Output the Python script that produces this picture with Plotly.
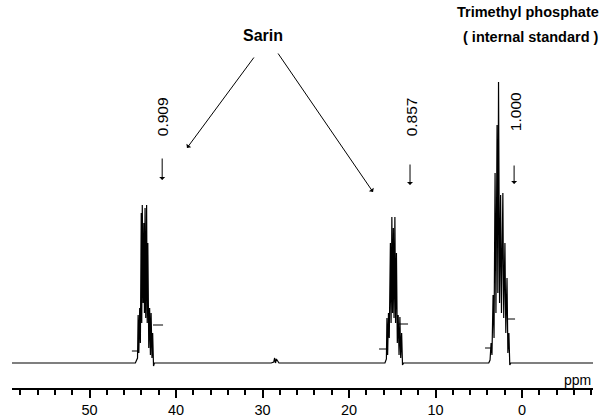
import plotly.graph_objects as go

# ---- Data ----
# Multiplet 1: Sarin, low-field half of the P-F doublet (ppm, intensity)
sarin1_ppm = [44.70, 44.45, 44.38, 44.30, 44.20, 44.12, 44.02, 43.96, 43.90, 43.80, 43.72, 43.65,
              43.58, 43.50, 43.40, 43.33, 43.26, 43.15, 43.05, 42.96, 42.88, 42.78, 42.70, 42.60, 42.50]
sarin1_int = [0, 5, 48, 10, 55, 20, 150, 40, 158, 60, 140, 50,
              155, 45, 158, 40, 120, 15, 55, 8, 50, 5, 30, -3, 0]
# Multiplet 2: Sarin, high-field half
sarin2_ppm = [15.85, 15.68, 15.62, 15.54, 15.44, 15.35, 15.22, 15.14, 15.05, 14.97, 14.88, 14.80,
              14.70, 14.62, 14.52, 14.42, 14.32, 14.22, 14.12, 14.03, 13.92, 13.82, 13.70]
sarin2_int = [0, 4, 45, 8, 50, 25, 120, 40, 146, 50, 135, 45,
              146, 40, 110, 20, 48, 8, 46, 5, 30, -2, 0]
# Multiplet 3: trimethyl phosphate (internal standard)
tmp_ppm = [3.85, 3.70, 3.58, 3.48, 3.35, 3.24, 3.12, 3.02, 2.89, 2.80, 2.72, 2.60,
           2.48, 2.38, 2.22, 2.12, 1.98, 1.88, 1.74, 1.64, 1.52, 1.42, 1.30]
tmp_int = [0, 3, 20, 8, 68, 25, 190, 50, 238, 70, 281, 60,
           168, 50, 170, 45, 120, 30, 85, 10, 30, -2, 0]
# small baseline feature near 29 ppm
blip_ppm = [29.0, 28.7, 28.6, 28.5, 28.4, 28.1]
blip_int = [0, 1, 5, 0, 4, 0]
spec_start, spec_end = 58.96, -8.2

# integration markers: (ppm_from, ppm_to, level)
integ_from = [45.1, 42.66, 16.53, 14.22, 4.28, 1.73]
integ_to = [44.4, 41.50, 15.49, 13.18, 3.47, 0.81]
integ_level = [12, 38, 14, 39, 15, 44]

# relative integrals
integ_labels = ["0.909", "0.857", "1.000"]
integ_label_ppm = [41.6, 12.8, 0.8]
integ_arrow_ppm = [41.6, 12.95, 0.92]

x_ticks = [50, 40, 30, 20, 10, 0]

# ---- Build spectrum trace ----
segments = [
    ([spec_start], [0]),
    (sarin1_ppm, sarin1_int),
    (blip_ppm, blip_int),
    (sarin2_ppm, sarin2_int),
    (tmp_ppm, tmp_int),
    ([spec_end], [0]),
]
xs, ys = [], []
for px, py in segments:
    xs += list(px)
    ys += list(py)

fig = go.Figure()
fig.add_trace(go.Scatter(x=xs, y=ys, mode="lines",
                         line=dict(color="black", width=1.2), hoverinfo="skip"))

ix, iy = [], []
for a, b, lv in zip(integ_from, integ_to, integ_level):
    ix += [a, b, None]
    iy += [lv, lv, None]
fig.add_trace(go.Scatter(x=ix, y=iy, mode="lines",
                         line=dict(color="black", width=1), hoverinfo="skip"))

font = "Liberation Sans, Arial, sans-serif"
ann = []
label_y = [246, 246, 251]
arrow_head = [183, 178, 179]
arrow_tail = [206, 200, 199]
for t, lx, ax_, ly, h, tl in zip(integ_labels, integ_label_ppm, integ_arrow_ppm, label_y, arrow_head, arrow_tail):
    ann.append(dict(x=lx, y=ly, text=t, showarrow=False, textangle=-90,
                    font=dict(family=font, size=15.5, color="black")))
    ann.append(dict(x=ax_, y=h, ax=ax_, ay=tl, axref="x", ayref="y", text="",
                    showarrow=True, arrowhead=1, arrowsize=1, arrowwidth=1, arrowcolor="black"))

ann.append(dict(x=29.94, y=328, text="<b>Sarin</b>", showarrow=False,
                font=dict(family=font, size=16, color="black")))
ann.append(dict(x=38.73, y=215, ax=30.87, ay=307, axref="x", ayref="y", text="",
                showarrow=True, arrowhead=1, arrowsize=1, arrowwidth=1, arrowcolor="black"))
ann.append(dict(x=17.23, y=171, ax=28.32, ay=311, axref="x", ayref="y", text="",
                showarrow=True, arrowhead=1, arrowsize=1, arrowwidth=1, arrowcolor="black"))
ann.append(dict(x=-0.69, y=351, text="<b>Trimethyl phosphate</b>", showarrow=False,
                font=dict(family=font, size=14.5, color="black")))
ann.append(dict(x=-1.04, y=326, text="<b>( internal standard )</b>", showarrow=False,
                font=dict(family=font, size=14.5, color="black")))
ann.append(dict(x=-6.36, y=-17, text="ppm", showarrow=False,
                font=dict(family=font, size=14, color="black")))

fig.update_layout(
    width=602, height=417,
    margin=dict(l=12, r=9, t=0, b=29),
    paper_bgcolor="white", plot_bgcolor="white",
    showlegend=False,
    annotations=ann,
    xaxis=dict(range=[spec_start, spec_end], tickvals=x_ticks, ticktext=[str(v) for v in x_ticks],
               ticks="outside", ticklen=8, tickwidth=1.5, tickcolor="black",
               showline=True, linewidth=2, linecolor="black",
               showgrid=False, zeroline=False,
               tickfont=dict(family=font, size=14.5, color="black"),
               minor=dict(dtick=2, tick0=0, ticks="outside", ticklen=5, tickwidth=1.5, tickcolor="black")),
    yaxis=dict(range=[-25, 363], visible=False, showgrid=False, zeroline=False),
)

fig.write_html("out.html", config={"displayModeBar": False},
               post_script="document.body.style.margin='0';document.body.style.overflow='hidden';")
